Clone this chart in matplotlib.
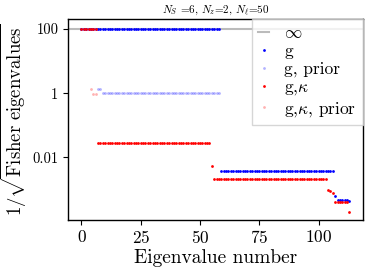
import matplotlib
matplotlib.use('Agg')
import matplotlib.pyplot as plt
from matplotlib.lines import Line2D

plt.rcParams['font.family'] = 'serif'
plt.rcParams['font.serif'] = ['cmr10']
plt.rcParams['mathtext.fontset'] = 'cm'
plt.rcParams['axes.formatter.use_mathtext'] = True

# value plotted for unconstrained directions
inf_value = 100.0

# g only
g_x = list(range(0, 114))
g_val = ([100.0] * 59 + [0.0039] * 48 + [6.2e-4]
         + [4.9e-4] * 5 + [4.3e-4])

# g, prior
gp_x = [7, 8] + list(range(9, 59))
gp_val = [1.4, 1.4] + [1.0] * 50

# g, kappa
gk_x = list(range(0, 114))
gk_val = ([100.0] * 7 + [0.028] * 48 + [0.0055] + [0.0021] * 48
          + [9.8e-4, 8.9e-4, 7.9e-4] + [4.2e-4] * 6 + [2.0e-4])

# g, kappa, prior
gkp_x = [4, 5, 6]
gkp_val = [1.4, 0.95, 0.95]

fig = plt.figure(figsize=(3.74, 2.73), dpi=100)
ax = fig.add_axes([0.182, 0.195, 0.788, 0.734])

ms = 4
ax.axhline(inf_value, color='#bbbbbb', lw=1.5, zorder=1)
ax.plot(g_x, g_val, '.', color='blue', ms=ms, mew=0, zorder=2)
ax.plot(gp_x, gp_val, '.', color='blue', alpha=0.3, ms=ms, mew=0, zorder=2)
ax.plot(gk_x, gk_val, '.', color='red', ms=ms, mew=0, zorder=3)
ax.plot(gkp_x, gkp_val, '.', color='red', alpha=0.3, ms=ms, mew=0, zorder=3)

ax.set_yscale('log')
ax.set_ylim(1.15e-4, 200)
ax.set_xlim(-5.65, 118.65)
ax.set_yticks([1e-2, 1, 1e2])
ax.set_yticklabels(['0.01', '1', '100'])
ax.minorticks_off()
ax.set_xticks([0, 25, 50, 75, 100])
ax.tick_params(axis='x', labelsize=12.5, length=3.5, pad=3)
ax.tick_params(axis='y', labelsize=10.5, length=3.5)
for s in ax.spines.values():
    s.set_linewidth(1.0)

ax.set_xlabel('Eigenvalue number', fontsize=14, labelpad=2)
ax.set_ylabel(r'$1/\sqrt{\rm Fisher\ eigenvalues}$', fontsize=13.5, labelpad=2)
ax.set_title(r'$N_S$ =6, $N_z$=2, $N_\ell$=50', fontsize=8, pad=4)

handles = [
    Line2D([], [], color='#bbbbbb', lw=1.5),
    Line2D([], [], ls='', marker='.', color='blue', ms=4, mew=0),
    Line2D([], [], ls='', marker='.', color='blue', alpha=0.3, ms=4, mew=0),
    Line2D([], [], ls='', marker='.', color='red', ms=4, mew=0),
    Line2D([], [], ls='', marker='.', color='red', alpha=0.3, ms=4, mew=0),
]
labels = [r'$\infty$', 'g', 'g, prior', r'g,$\kappa$', r'g,$\kappa$, prior']
ax.legend(handles, labels, loc='upper right', borderaxespad=0, fontsize=12.5,
          fancybox=False, handlelength=0.6, labelspacing=0.15,
          borderpad=0.35, handletextpad=0.9, framealpha=0.8)

fig.savefig('out.png', dpi=100)
